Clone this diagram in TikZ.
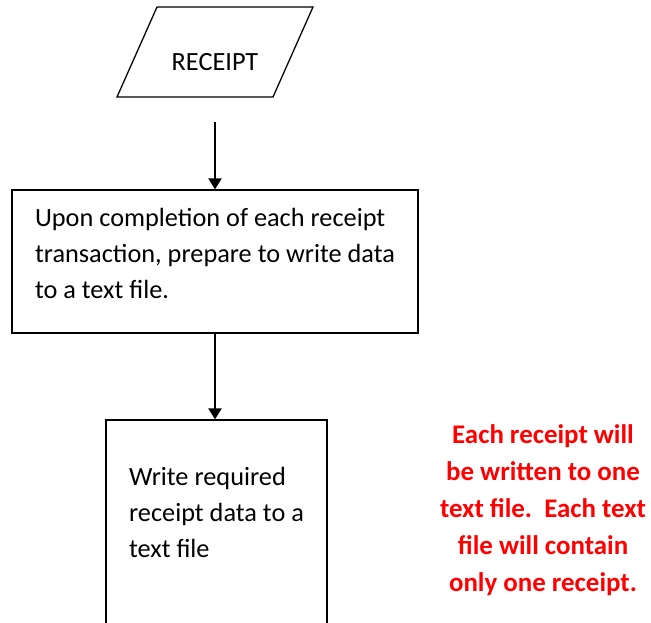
\documentclass[tikz,border=0pt]{standalone}
\usepackage{fontspec}
\setmainfont{Carlito}
\usetikzlibrary{positioning, arrows.meta}

\begin{document}
\begin{tikzpicture}[x=1pt,y=-1pt,
  box/.style={draw, line width=1.3pt, rectangle, inner sep=0pt, align=left},
  flow/.style={-{Triangle[length=11pt,width=13pt]}, line width=2.2pt},
  every node/.style={font=\fontsize{26.3}{36}\selectfont}]
\useasboundingbox (0,0) rectangle (651,623);
\draw[line width=1.3pt] (157,7) -- (313,7) -- (273,97) -- (117,97) -- cycle;
\node (receipt) at (215,62) {RECEIPT};
\coordinate (receipt-b) at (215,97);
\node[box, minimum width=406, minimum height=143] (prepare) at (215,261.5)
  {Upon completion of each receipt\\transaction, prepare to write data\\to a text file.\rule[-16pt]{0pt}{1pt}};
\node[box, minimum width=221, minimum height=230] (write) at (216.5,535)
  {Write required\\receipt data to a\\text file\rule[-46pt]{0pt}{1pt}};
\node[align=center, text=red, font=\fontsize{26.9}{37}\selectfont\bfseries] (note) at (543,510.5)
  {Each receipt will\\be written to one\\text file.\ \ Each text\\file will contain\\only one receipt.};
\draw[flow, shorten <=25pt] (receipt-b) -- (prepare.north);
\draw[flow] (prepare.south) -- (prepare.south |- write.north);
\end{tikzpicture}
\end{document}
